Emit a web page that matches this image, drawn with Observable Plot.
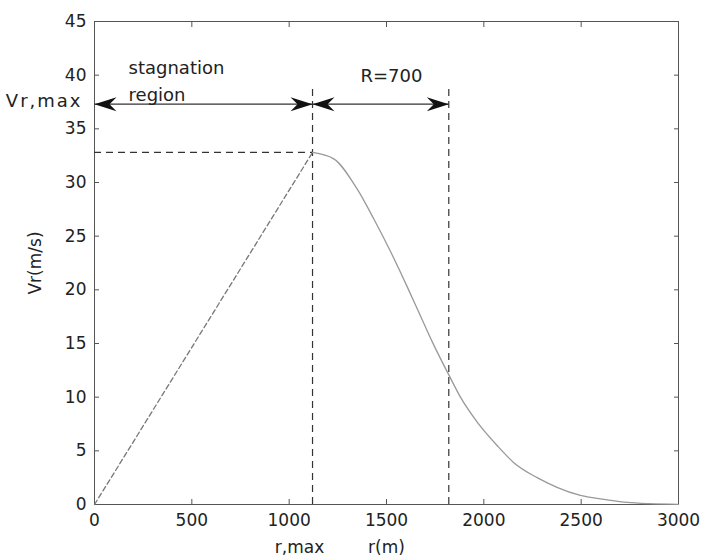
<!DOCTYPE html>
<html>
<head>
<meta charset="utf-8">
<script src="https://cdn.jsdelivr.net/npm/d3@7"></script>
<script src="https://cdn.jsdelivr.net/npm/@observablehq/plot@0.6"></script>
<style>
  html, body { margin: 0; padding: 0; background: #fff; }
  .spaced text { letter-spacing: 2px; }
</style>
</head>
<body>
<div id="chart"></div>
<script>
// ---- data ----
const xTicks = [0, 500, 1000, 1500, 2000, 2500, 3000];
const yTicks = [0, 5, 10, 15, 20, 25, 30, 35, 40, 45];

const rMax = 1120;          // r,max
const vMax = 32.8;          // Vr at r,max
const rEdge = 1820;         // r,max + R (R = 700)
const vArrow = 37.3;        // height of the dimension arrows (Vr,max level)
const vGuideTop = 38.7;     // top of the vertical dashed guides

// rising (stagnation) part
const rRise = [0, 1120];
const vRise = [0, 32.8];

// decaying part
const rDecay = [1120, 1229, 1349, 1435, 1520, 1606, 1691, 1734, 1828, 1880, 1965, 2068, 2154, 2274, 2376, 2496, 2633, 2736, 2850, 3000];
const vDecay = [32.8, 32.2, 29.4, 26.6, 23.6, 20.3, 16.9, 15.2, 11.8, 10.0, 7.7, 5.5, 3.9, 2.5, 1.6, 0.84, 0.44, 0.2, 0.08, 0.02];

const riseData = rRise.map((r, i) => ({r, v: vRise[i]}));
const decayData = rDecay.map((r, i) => ({r, v: vDecay[i]}));

const heads = [
  {r: 0, rot: 180},
  {r: rMax, rot: 0},
  {r: rMax, rot: 180},
  {r: rEdge, rot: 0}
];

const arrowHead = {
  draw(ctx, size) {
    const s = Math.sqrt(size / Math.PI) / 10;
    ctx.moveTo(0, 0);
    ctx.lineTo(-22 * s, -7 * s);
    ctx.lineTo(-15 * s, 0);
    ctx.lineTo(-22 * s, 7 * s);
    ctx.closePath();
  }
};

const font = "DejaVu Sans, Liberation Sans, sans-serif";

const chart = Plot.plot({
  width: 706,
  height: 560,
  marginLeft: 94,
  marginRight: 28,
  marginTop: 21,
  marginBottom: 56,
  style: {fontFamily: font, fontSize: "17px", color: "#222", background: "#fff"},
  x: {domain: [0, 3000]},
  y: {domain: [0, 45]},
  marks: [
    Plot.frame({stroke: "#555", strokeWidth: 1}),
    // inward ticks on all four sides
    Plot.axisX({anchor: "bottom", ticks: xTicks, tickSize: -5, text: null, label: null, stroke: "#555"}),
    Plot.axisX({anchor: "top", ticks: xTicks, tickSize: -5, text: null, label: null, stroke: "#555"}),
    Plot.axisY({anchor: "left", ticks: yTicks, tickSize: -5, text: null, label: null, stroke: "#555"}),
    Plot.axisY({anchor: "right", ticks: yTicks, tickSize: -5, text: null, label: null, stroke: "#555"}),
    // tick labels and axis labels
    Plot.axisX({anchor: "bottom", ticks: xTicks, tickFormat: d3.format("d"), tickSize: 0, tickPadding: 9, label: "r(m)", labelAnchor: "center", labelArrow: "none", labelOffset: 48, fontSize: 17}),
    Plot.axisY({anchor: "left", ticks: yTicks, tickFormat: d3.format("d"), tickSize: 0, tickPadding: 8, label: "Vr(m/s)", labelAnchor: "center", labelArrow: "none", labelOffset: 66, fontSize: 17}),
    // dashed guide lines
    Plot.ruleY([vMax], {x1: 0, x2: rMax, stroke: "#333", strokeDasharray: "7,5", strokeWidth: 1.2}),
    Plot.ruleX([rMax, rEdge], {y1: 0, y2: vGuideTop, stroke: "#333", strokeDasharray: "7,5", strokeWidth: 1.2}),
    // velocity profile
    Plot.line(riseData, {x: "r", y: "v", stroke: "#777", strokeWidth: 1.3, strokeDasharray: "5,3"}),
    Plot.line(decayData, {x: "r", y: "v", stroke: "#999", strokeWidth: 1.3, curve: "monotone-x"}),
    // dimension arrows
    Plot.link([{a: 0, b: rMax}, {a: rMax, b: rEdge}], {x1: "a", x2: "b", y1: vArrow, y2: vArrow, stroke: "#333", strokeWidth: 1.3}),
    Plot.dot(heads, {x: "r", y: vArrow, symbol: arrowHead, r: 10, fill: "#111", stroke: "none", rotate: "rot"}),
    // annotations
    Plot.text(["stagnation"], {x: 175, y: 40.6, text: d => d, textAnchor: "start", fontSize: 18, fill: "#222"}),
    Plot.text(["region"], {x: 175, y: 38.1, text: d => d, textAnchor: "start", fontSize: 18, fill: "#222"}),
    Plot.text(["R=700"], {x: 1525, y: 39.9, text: d => d, fontSize: 18, fill: "#222"}),
    Plot.text(["Vr,max"], {x: 0, y: vArrow, text: d => d, textAnchor: "end", dx: -12, dy: -3, fontSize: 18, fill: "#222", className: "spaced"}),
    Plot.text(["r,max"], {x: rMax, y: 0, text: d => d, dx: -13, dy: 43, fontSize: 17, fill: "#222"})
  ]
});

document.getElementById("chart").appendChild(chart);
</script>
</body>
</html>
